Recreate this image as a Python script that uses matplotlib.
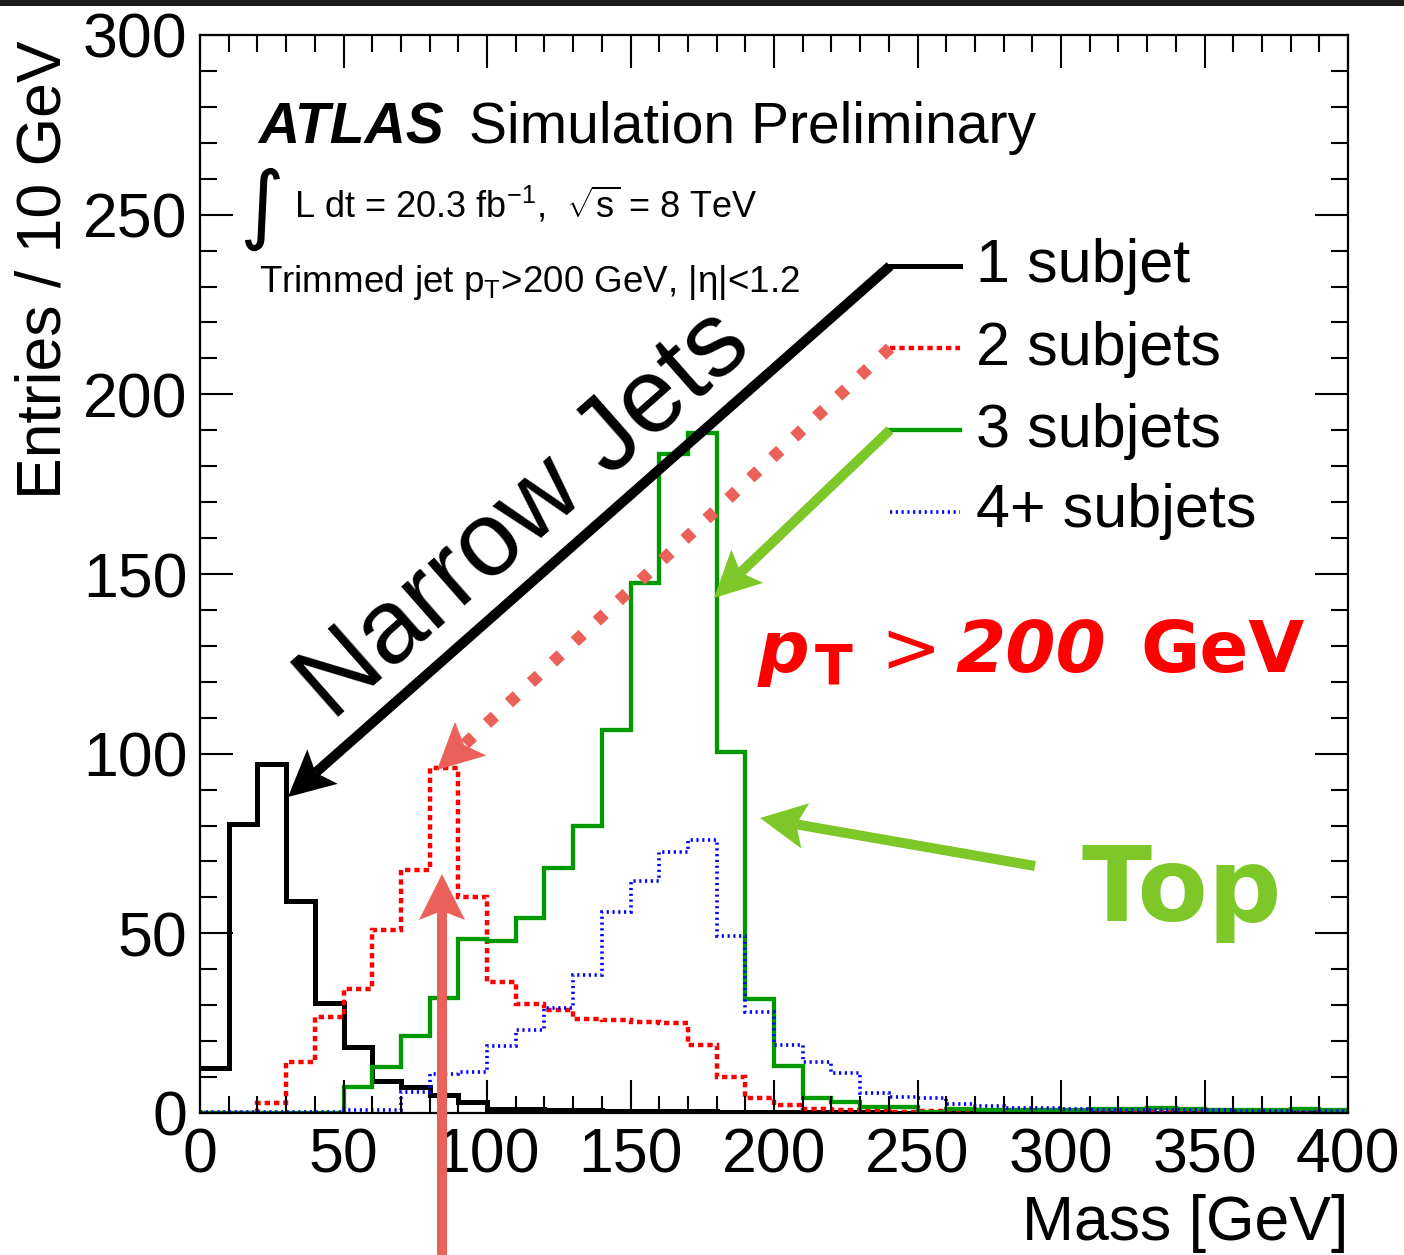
import numpy as np
import matplotlib
matplotlib.use("Agg")
import matplotlib.pyplot as plt
from matplotlib.lines import Line2D
from matplotlib.patches import Polygon, Rectangle
from matplotlib.ticker import MultipleLocator

plt.rcParams['font.family'] = ['Liberation Sans', 'DejaVu Sans']
plt.rcParams['mathtext.fontset'] = 'custom'
plt.rcParams['mathtext.rm'] = 'Liberation Sans'
plt.rcParams['mathtext.it'] = 'Liberation Sans:italic'
plt.rcParams['mathtext.bf'] = 'Liberation Sans:bold'

W, H = 1404, 1255

# jet mass histograms, 10 GeV bins from 0 to 400 GeV
bin_edges = np.arange(0, 410, 10)
one_subjet = [12.5, 80.5, 97, 59, 30.5, 18.4, 8.8, 7.2, 4.9, 3.1,
              1.2, 1.1, 0.9, 0.7, 0.6, 0.5, 0.5, 0.6, 0.4, 0.3,
              0.3, 0.2, 0.2, 0.2, 0.1, 0.1, 0.1, 0.1, 0.1, 0.1,
              0.1, 0.0, 0.1, 0.0, 0.1, 0.0, 0.0, 0.1, 0.0, 0.0]
two_subjets = [0, 0, 2.8, 14.3, 26.8, 34.4, 51, 67.7, 96, 60.2,
               36.5, 30.2, 28.6, 26.2, 26, 25.3, 25, 18.8, 9.9, 4.2,
               2.1, 1.1, 0.9, 0.6, 0.4, 0.5, 0.3, 0.3, 0.4, 0.3,
               0.2, 0.3, 0.5, 0.2, 0.2, 0.1, 0.2, 0.2, 0.1, 0.1]
three_subjets = [0, 0, 0, 0, 0, 7.3, 12.9, 21.3, 32, 48.4,
                 47.8, 54.4, 68.2, 80, 106.7, 147.4, 183.5, 189.3, 100.6, 31.8,
                 13.1, 4.1, 3.0, 1.8, 1.8, 0.4, 1.0, 0.9, 0.9, 0.8,
                 0.9, 1.0, 1.2, 1.3, 1.0, 0.9, 0.9, 0.8, 1.2, 0.9]
four_subjets = [0.2, 0.2, 0.2, 0.3, 0.3, 0.9, 0.9, 5.8, 10.9, 11.4,
                18.6, 23, 29.2, 38.3, 55.9, 64.7, 72.7, 76, 49.3, 28.1,
                18.8, 14.1, 11.2, 5.7, 4.5, 4.3, 2.5, 2.0, 1.4, 1.4,
                1.0, 0.9, 0.9, 0.8, 0.8, 0.7, 0.6, 0.6, 0.4, 0.5]

labels = ['1 subjet', '2 subjets', '3 subjets', '4+ subjets']
colors = ['black', '#ff0000', '#009900', '#0000ff']
widths = [3.6, 3.2, 3.1, 2.6]
styles = ['-', (0, (1.2, 0.9)), '-', (0, (0.6, 1.0))]

SALMON = '#ec605a'
LIGHTGREEN = '#7dc828'

fig = plt.figure(figsize=(W / 100, H / 100), dpi=100)
ax = fig.add_axes([200 / W, 1 - 1113 / H, 1148 / W, 1078 / H])

for vals, c, lw, ls in zip([one_subjet, two_subjets, three_subjets, four_subjets],
                           colors, widths, styles):
    ax.stairs(vals, bin_edges, baseline=None, color=c, lw=lw, linestyle=ls)

ax.set_xlim(0, 400)
ax.set_ylim(0, 300)
ax.xaxis.set_major_locator(MultipleLocator(50))
ax.xaxis.set_minor_locator(MultipleLocator(10))
ax.yaxis.set_major_locator(MultipleLocator(50))
ax.yaxis.set_minor_locator(MultipleLocator(10))
ax.tick_params(which='both', direction='in', top=True, right=True, width=1.5)
ax.tick_params(which='major', length=24, labelsize=45)
ax.tick_params(which='minor', length=12)
ax.tick_params(axis='x', pad=10)
ax.tick_params(axis='y', pad=9)
for s in ax.spines.values():
    s.set_linewidth(1.6)

ax.set_ylabel('Entries / 10 GeV', fontsize=45, loc='top')
ax.yaxis.set_label_coords(-0.110, 0.995)
ax.set_xlabel('Mass [GeV]', fontsize=45, loc='right')
ax.xaxis.set_label_coords(1.0, -0.075)


def fx(x):
    return x / W


def fy(y):
    return 1 - y / H


def arrow(x0, y0, x1, y1, color, lw=10, ls='-', head_len=46, head_w=46):
    d = np.array([x1 - x0, y1 - y0], float)
    u = d / np.hypot(*d)
    n = np.array([-u[1], u[0]])
    tip = np.array([x1, y1], float)
    base = tip - u * head_len
    end = tip - u * head_len * 0.8
    fig.add_artist(Line2D([fx(x0), fx(end[0])], [fy(y0), fy(end[1])],
                          transform=fig.transFigure, color=color,
                          lw=lw * 0.72, linestyle=ls, solid_capstyle='butt',
                          dash_capstyle='butt'))
    pts = [tip, base + n * head_w / 2, end, base - n * head_w / 2]
    pts = [(fx(p[0]), fy(p[1])) for p in pts]
    fig.add_artist(Polygon(pts, closed=True, transform=fig.transFigure,
                           facecolor=color, edgecolor='none'))


# legend drawn by hand
leg_y = [266, 348, 430, 512]
leg_base = [282, 365, 447, 527]
for lab, c, lw, ls, ly, lb in zip(labels, colors, widths, styles, leg_y, leg_base):
    fig.add_artist(Line2D([fx(890), fx(960)], [fy(ly), fy(ly)],
                          transform=fig.transFigure, color=c, lw=lw, linestyle=ls))
    fig.text(fx(976), fy(lb), lab, fontsize=44, va='baseline', ha='left')

# arrows
arrow(890, 266, 288, 797, 'black')
arrow(890, 348, 437, 770, SALMON, lw=12, ls=(0, (0.9, 1.6)))
arrow(890, 430, 714, 598, LIGHTGREEN)
arrow(1035, 866, 760, 818, LIGHTGREEN)
arrow(442, 1255, 442, 874, SALMON, head_w=46, head_len=46)

fig.text(fx(543), fy(536), 'Narrow Jets', rotation=41.4, rotation_mode='anchor',
         ha='center', va='baseline', fontsize=76)

# ATLAS labels
fig.text(fx(258), fy(143), 'ATLAS', fontsize=41, weight='bold', style='italic',
         va='baseline')
fig.text(fx(469), fy(143), 'Simulation Preliminary', fontsize=41, va='baseline')
fig.text(fx(262), fy(209), '\u222b', fontsize=62, family='DejaVu Sans',
         va='center', ha='center')
fig.text(fx(294), fy(217), r'L dt = 20.3 fb$^{-1}$,  $\sqrt{\mathrm{s}}$ = 8 TeV',
         fontsize=26, va='baseline')
fig.text(fx(259), fy(292), r'Trimmed jet p$_{\mathrm{T}}$>200 GeV, |η|<1.2',
         fontsize=26.5, va='baseline')

# pT > 200 GeV
dv = 'DejaVu Sans'
fig.text(fx(758), fy(672), 'p', fontsize=52, family=dv, weight='bold',
         style='oblique', color='red', va='baseline')
fig.text(fx(815), fy(683), 'T', fontsize=40, family=dv, weight='bold',
         color='red', va='baseline')
fig.text(fx(880), fy(672), '>', fontsize=52, family=dv, color='red',
         va='baseline')
fig.text(fx(955), fy(672), '200', fontsize=52, family=dv, weight='bold',
         style='oblique', color='red', va='baseline')
fig.text(fx(1140), fy(672), 'GeV', fontsize=52, family=dv, weight='bold',
         color='red', va='baseline')

fig.text(fx(1082), fy(921), 'Top', fontsize=74, family=dv, weight='bold',
         color=LIGHTGREEN, va='baseline')

# dark strip along the top edge of the screenshot
fig.add_artist(Rectangle((0, fy(6)), 1, 6 / H, transform=fig.transFigure,
                         facecolor='#1c1c1c', edgecolor='none'))

fig.savefig('out.png', dpi=100)
